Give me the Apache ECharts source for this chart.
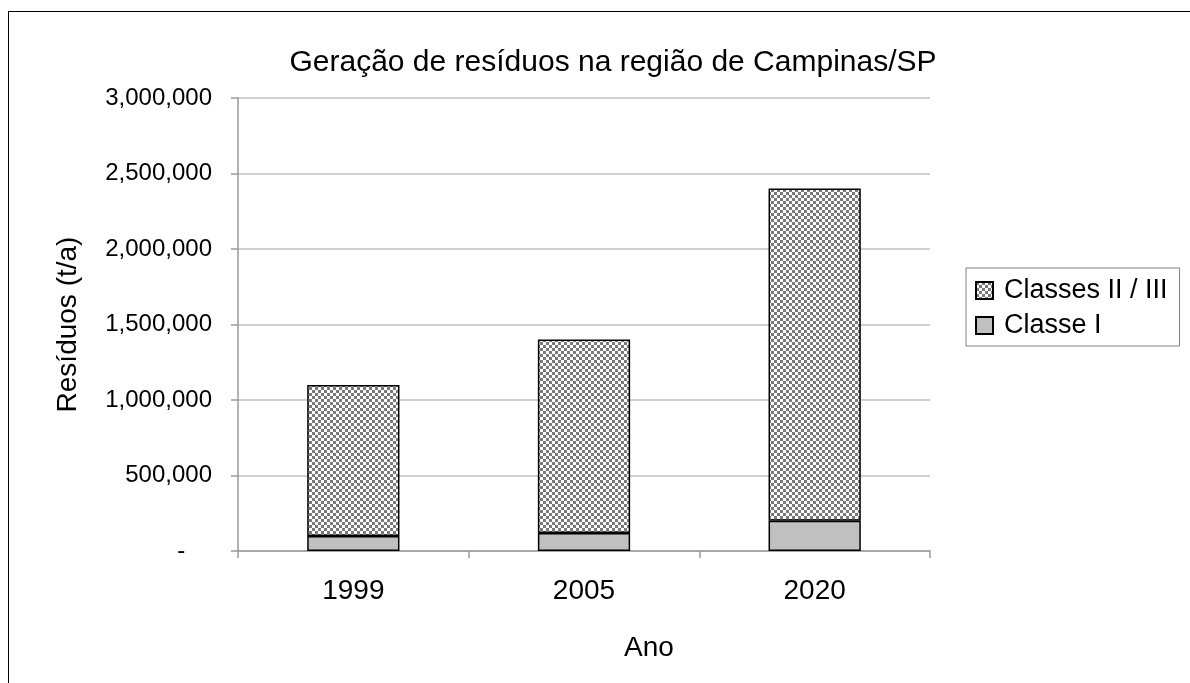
<!DOCTYPE html>
<html>

<head>
  <meta charset="utf-8" />
  <title>Geração de resíduos</title>
  <style>
    html, body {
      margin: 0;
      padding: 0;
      background-color: #ffffff;
      overflow: hidden;
    }
    /* moldura externa do gráfico */
    #frame {
      position: absolute;
      left: 8px;
      top: 11px;
      width: 1200px;
      height: 700px;
      border: 1.5px solid #000;
      box-sizing: border-box;
    }
  </style>
  <script src="https://cdn.jsdelivr.net/npm/echarts@6/dist/echarts.min.js"></script>
</head>

<body>
  <div id="frame"></div>
  <div id="main" style="position:absolute;left:0;top:0;width:1190px;height:683px;"></div>
  <script type="text/javascript">
    // dados
    var anos = ['1999', '2005', '2020'];
    var classeI = [100000, 120000, 200000];
    var classesIIIII = [1000000, 1280000, 2200000];
    var nomes = ['Classe I', 'Classes II / III'];

    // padrão xadrez para Classes II / III
    function makeChecker() {
      var c = document.createElement('canvas');
      c.width = 6;
      c.height = 6;
      var ctx = c.getContext('2d');
      ctx.fillStyle = '#ffffff';
      ctx.fillRect(0, 0, 6, 6);
      ctx.fillStyle = '#7a7a7a';
      ctx.fillRect(0, 0, 3, 3);
      ctx.fillRect(3, 3, 3, 3);
      return c;
    }
    var checker = { image: makeChecker(), repeat: 'repeat' };

    var font = 'Liberation Sans, Arial, sans-serif';
    var myChart = echarts.init(document.getElementById('main'), null, { renderer: 'canvas' });

    var option = {
      animation: false,
      title: {
        text: 'Geração de resíduos na região de Campinas/SP',
        left: 608,
        top: 43,
        textAlign: 'center',
        textStyle: { fontFamily: font, fontSize: 30, fontWeight: 'normal', color: '#000' }
      },
      legend: {
        orient: 'vertical',
        left: 966,
        top: 268,
        data: [nomes[1], nomes[0]],
        backgroundColor: '#fff',
        borderColor: '#808080',
        borderWidth: 1,
        borderRadius: 0,
        padding: [7, 12, 5, 9],
        itemGap: 4,
        itemWidth: 17,
        itemHeight: 17,
        icon: 'rect',
        textStyle: { fontFamily: font, fontSize: 27, color: '#000', lineHeight: 31, padding: [0, 0, 0, 6] }
      },
      grid: {
        left: 238,
        right: 260,
        top: 98,
        bottom: 132,
        containLabel: false
      },
      xAxis: {
        type: 'category',
        data: anos,
        boundaryGap: true,
        axisLine: { lineStyle: { color: '#999', width: 1.5 } },
        axisTick: { show: true, alignWithLabel: false, length: 7, lineStyle: { color: '#999', width: 1.5 } },
        axisLabel: { margin: 26, fontFamily: font, fontSize: 28, color: '#000' },
        splitLine: { show: false }
      },
      yAxis: {
        type: 'value',
        min: 0,
        max: 3000000,
        interval: 500000,
        name: 'Resíduos (t/a)',
        nameLocation: 'middle',
        nameGap: 156,
        nameTextStyle: { fontFamily: font, fontSize: 28, color: '#000' },
        axisLine: { show: true, lineStyle: { color: '#999', width: 1.5 } },
        axisTick: { show: true, length: 7, lineStyle: { color: '#999', width: 1.5 } },
        axisLabel: {
          margin: 26,
          fontFamily: font,
          fontSize: 24,
          color: '#000',
          formatter: function (v) {
            // formato contábil: zero aparece como traço
            return v === 0 ? '-    ' : v.toLocaleString('en-US');
          }
        },
        splitLine: { show: true, lineStyle: { color: '#c0c0c0', width: 1.5 } }
      },
      graphic: [{
        type: 'text',
        left: 624,
        top: 634,
        style: { text: 'Ano', font: '28px ' + font, fill: '#000' }
      }],
      series: [{
        name: nomes[0],
        type: 'bar',
        stack: 'total',
        data: classeI,
        barCategoryGap: '60%',
        itemStyle: { color: '#c0c0c0', borderColor: '#000', borderWidth: 1.5 }
      }, {
        name: nomes[1],
        type: 'bar',
        stack: 'total',
        data: classesIIIII,
        barCategoryGap: '60%',
        itemStyle: { color: checker, borderColor: '#000', borderWidth: 1.5 }
      }]
    };
    myChart.setOption(option);
  </script>
</body>

</html>
